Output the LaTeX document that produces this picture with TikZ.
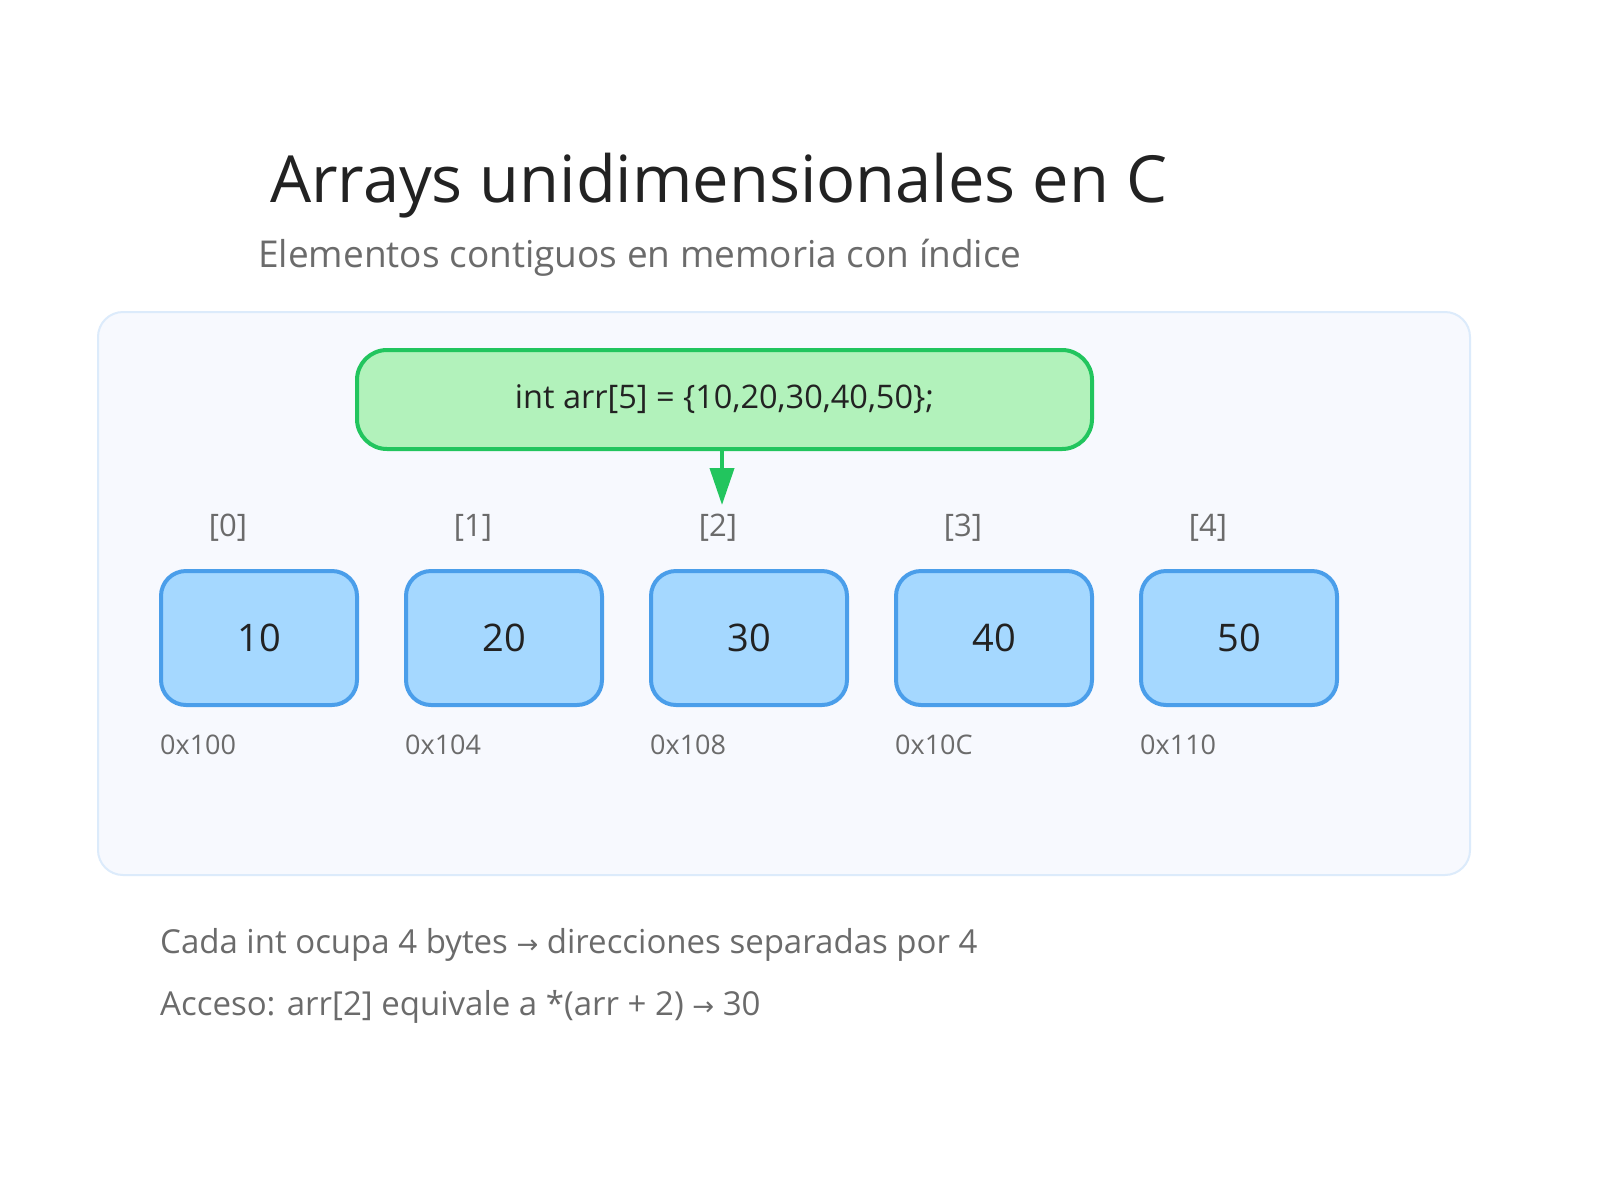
\documentclass[tikz,border=0pt]{standalone}
\usepackage{fontspec}
\setmainfont{Open Sans}
\newfontfamily\symfont{DejaVu Sans}
\newcommand{\rarr}{{\symfont\fontsize{26}{30}\selectfont →}}
\usetikzlibrary{arrows.meta}
\definecolor{titlec}{HTML}{222222}
\definecolor{grayc}{HTML}{6B6B6B}
\definecolor{panelfill}{HTML}{F7F9FE}
\definecolor{panelline}{HTML}{DCEBFB}
\definecolor{greenfill}{HTML}{B2F2BB}
\definecolor{greenline}{HTML}{22C55E}
\definecolor{cellfill}{HTML}{A5D8FF}
\definecolor{cellline}{HTML}{4A9EEA}
\tikzset{
  cell/.style={draw=cellline, line width=4pt, fill=cellfill, rounded corners=25pt,
    minimum width=196pt, minimum height=134pt, inner sep=0pt, anchor=north west,
    font=\fontsize{38}{44}\selectfont, text=titlec},
  idx/.style={anchor=base, font=\fontsize{31}{36}\selectfont, text=grayc, inner sep=0pt},
  addr/.style={anchor=base west, font=\fontsize{27}{32}\selectfont, text=grayc, inner sep=0pt},
  note/.style={anchor=base west, font=\fontsize{33}{40}\selectfont, text=grayc, inner sep=0pt},
}
\begin{document}
\begin{tikzpicture}[x=1pt,y=-1pt]
\useasboundingbox (0,0) rectangle (1600,1200);
\fill[white] (0,0) rectangle (1600,1200);
% title
\node[anchor=base west, inner sep=0pt, text=titlec, font=\fontsize{65}{75}\selectfont] (title) at (270,202) {Arrays unidimensionales en C};
\node[anchor=base west, inner sep=0pt, text=grayc, font=\fontsize{37}{44}\selectfont] (subtitle) at (258,267) {Elementos contiguos en memoria con índice};
% panel
\draw[draw=panelline, line width=2pt, fill=panelfill, rounded corners=25pt] (98,312) rectangle (1470,875);
% declaration
\node[draw=greenline, line width=4pt, fill=greenfill, rounded corners=30pt, minimum width=735pt, minimum height=99pt, inner sep=0pt, anchor=north west, font=\fontsize{32.5}{40}\selectfont, text=titlec] (decl) at (355,348) {int arr[5] = \{10,20,30,40,50\};};
\coordinate (tip) at (722,505);
\draw[greenline, line width=4pt, -{Triangle[length=37pt,width=24pt]}] (decl.south -| tip) -- (tip);
% cells
\foreach \i/\v/\a in {0/10/0x100,1/20/0x104,2/30/0x108,3/40/0x10C,4/50/0x110}{
  \node[cell] (c\i) at ({159+245*\i},569) {\v};
  \node[idx] (i\i) at ({228+245*\i},536) {[\i]};
  \node[addr] (a\i) at ({160+245*\i},754) {\a};
}
% notes
\node[note] (n1) at (160,953) {Cada int ocupa 4 bytes \rarr{} direcciones separadas por 4};
\node[note] (n2) at (160,1015) {Acceso: arr[2] equivale a *(arr + 2) \rarr{} 30};
\end{tikzpicture}
\end{document}
